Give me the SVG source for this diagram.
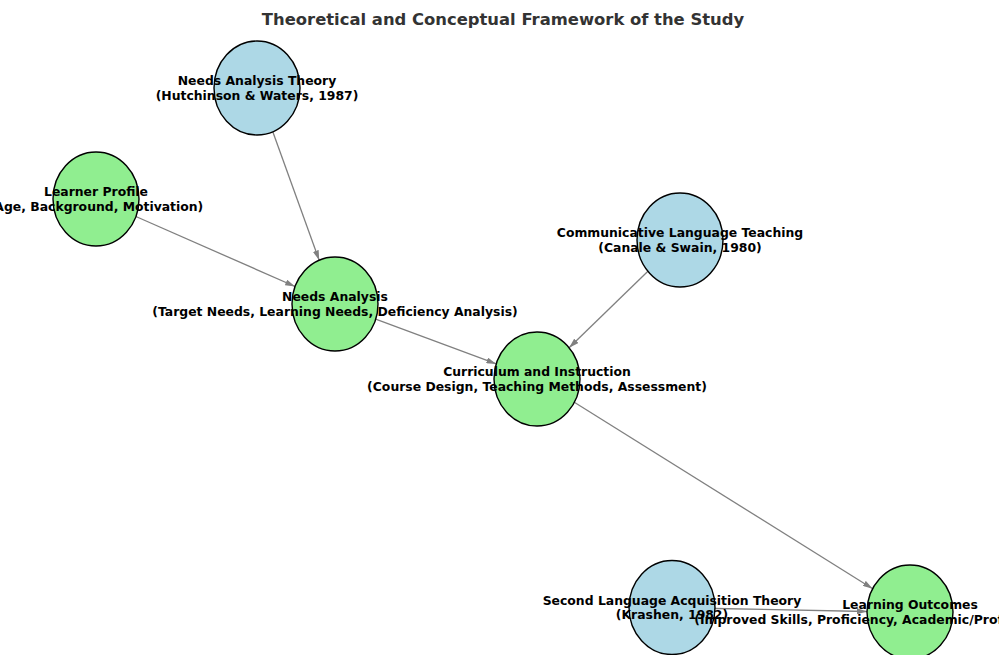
<svg xmlns="http://www.w3.org/2000/svg" width="999" height="655" viewBox="0 0 999 655">
<defs>
<marker id="ah" viewBox="0 0 10 6" refX="10" refY="3" markerWidth="10" markerHeight="6" markerUnits="userSpaceOnUse" orient="auto">
<path d="M0,0 L10,3 L0,6 Z" fill="#808080"/>
</marker>
<style>
.bg{fill:#ffffff}
.title{font-family:"DejaVu Sans",sans-serif;font-weight:bold;font-size:16.4px;fill:#333333;text-anchor:middle}
.theory{fill:#add8e6;stroke:#000;stroke-width:1.4}
.concept{fill:#90ee90;stroke:#000;stroke-width:1.4}
.lbl{font-family:"DejaVu Sans",sans-serif;font-weight:bold;font-size:12.4px;fill:#000;text-anchor:middle}
.edge{stroke:#808080;stroke-width:1.3;fill:none;marker-end:url(#ah)}
</style>
</defs>
<rect class="bg" x="0" y="0" width="999" height="655"/>
<text class="title" x="503" y="25">Theoretical and Conceptual Framework of the Study</text>
<g id="connectors">
<line class="edge" x1="272.8" y1="131.7" x2="319.2" y2="260.3"/>
<line class="edge" x1="135.9" y1="216.5" x2="295.1" y2="286.5"/>
<line class="edge" x1="375.7" y1="319.1" x2="496.3" y2="363.9"/>
<line class="edge" x1="647.9" y1="271.2" x2="569.1" y2="347.8"/>
<line class="edge" x1="574.3" y1="402.3" x2="872.7" y2="588.7"/>
<line class="edge" x1="715" y1="608.5" x2="867" y2="611.5"/>
</g>
<g id="node-needs-analysis-theory">
<ellipse class="theory" cx="257" cy="88" rx="43" ry="47"/>
<text class="lbl" x="257" y="85">Needs Analysis Theory</text>
<text class="lbl" x="257" y="99.5">(Hutchinson &amp; Waters, 1987)</text>
</g>
<g id="node-learner-profile">
<ellipse class="concept" cx="96" cy="199" rx="43" ry="47"/>
<text class="lbl" x="96" y="196">Learner Profile</text>
<text class="lbl" x="96" y="210.5">(Age, Background, Motivation)</text>
</g>
<g id="node-clt">
<ellipse class="theory" cx="680" cy="240" rx="43" ry="47"/>
<text class="lbl" x="680" y="237">Communicative Language Teaching</text>
<text class="lbl" x="680" y="251.5">(Canale &amp; Swain, 1980)</text>
</g>
<g id="node-needs-analysis">
<ellipse class="concept" cx="335" cy="304" rx="43" ry="47"/>
<text class="lbl" x="335" y="301">Needs Analysis</text>
<text class="lbl" x="335" y="315.5">(Target Needs, Learning Needs, Deficiency Analysis)</text>
</g>
<g id="node-curriculum">
<ellipse class="concept" cx="537" cy="379" rx="43" ry="47"/>
<text class="lbl" x="537" y="376">Curriculum and Instruction</text>
<text class="lbl" x="537" y="390.5">(Course Design, Teaching Methods, Assessment)</text>
</g>
<g id="node-sla">
<ellipse class="theory" cx="672" cy="607.5" rx="43" ry="47"/>
<text class="lbl" x="672" y="604.5">Second Language Acquisition Theory</text>
<text class="lbl" x="672" y="619">(Krashen, 1982)</text>
</g>
<g id="node-learning-outcomes">
<ellipse class="concept" cx="910" cy="612" rx="43" ry="47"/>
<text class="lbl" x="910" y="609">Learning Outcomes</text>
<text class="lbl" x="910" y="623.5">(Improved Skills, Proficiency, Academic/Professional Success)</text>
</g>
</svg>
